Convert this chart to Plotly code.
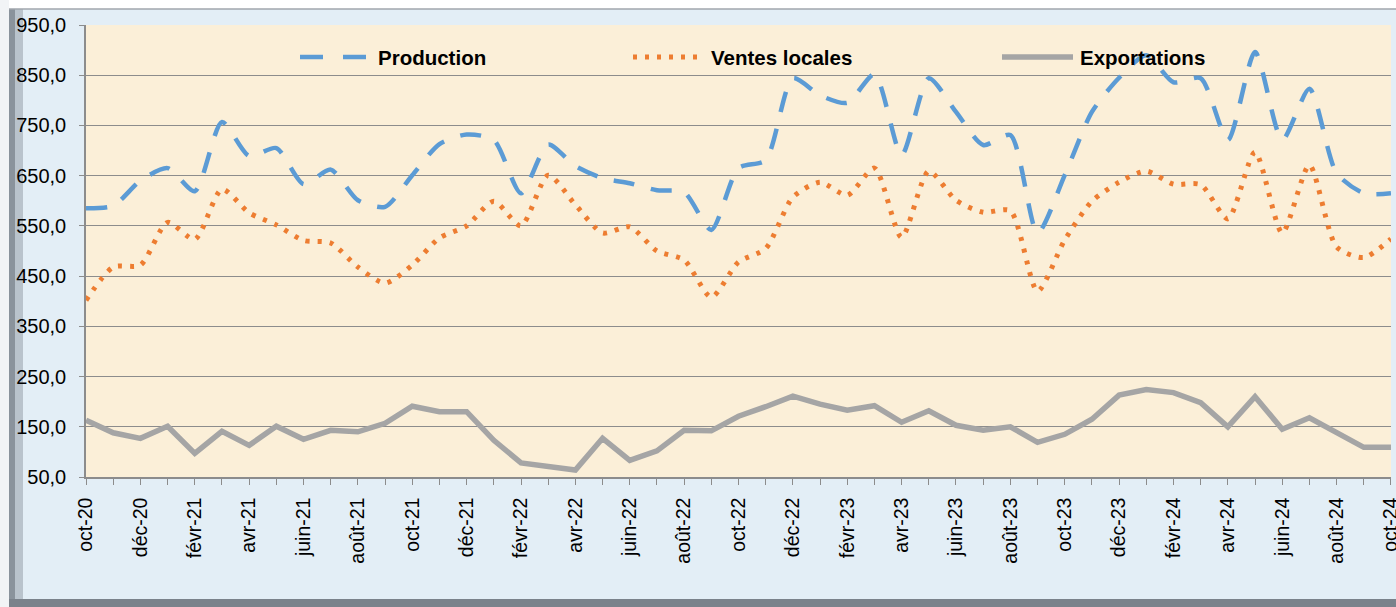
import plotly.graph_objects as go

months = ["oct-20", "nov-20", "déc-20", "janv-21", "févr-21", "mars-21", "avr-21", "mai-21",
          "juin-21", "juil-21", "août-21", "sept-21", "oct-21", "nov-21", "déc-21", "janv-22",
          "févr-22", "mars-22", "avr-22", "mai-22", "juin-22", "juil-22", "août-22", "sept-22",
          "oct-22", "nov-22", "déc-22", "janv-23", "févr-23", "mars-23", "avr-23", "mai-23",
          "juin-23", "juil-23", "août-23", "sept-23", "oct-23", "nov-23", "déc-23", "janv-24",
          "févr-24", "mars-24", "avr-24", "mai-24", "juin-24", "juil-24", "août-24", "sept-24",
          "oct-24"]

production = [585, 590, 640, 665, 619, 757, 689, 705, 633, 662, 601, 588, 651, 713, 732, 721,
              615, 712, 669, 645, 635, 621, 617, 542, 665, 681, 844, 810, 795, 852, 691, 844,
              777, 711, 731, 536, 651, 777, 845, 890, 836, 844, 721, 896, 721, 823, 655, 615,
              615]

ventes_locales = [402, 468, 472, 557, 523, 623, 576, 552, 521, 516, 468, 436, 472, 526, 550, 599,
                  550, 651, 592, 536, 548, 500, 482, 408, 478, 505, 607, 637, 611, 665, 527, 659,
                  601, 577, 580, 420, 522, 599, 637, 659, 633, 632, 564, 697, 536, 671, 508, 487,
                  524]

exportations = [163, 138, 127, 151, 97, 141, 113, 151, 125, 143, 140, 157, 191, 180, 180, 123,
                78, 70, 64, 127, 83, 102, 143, 142, 171, 190, 211, 195, 183, 192, 159, 182,
                153, 143, 150, 119, 135, 165, 213, 224, 218, 198, 150, 210, 145, 168, 140, 109,
                109]

series_names = ["Production", "Ventes locales", "Exportations"]
colors = ["#5B9BD5", "#ED7D31", "#A5A5A5"]

x_idx = list(range(len(months)))
tick_text = [m if i % 2 == 0 else "" for i, m in enumerate(months)]

FONT = "Arial, 'Liberation Sans', sans-serif"

fig = go.Figure()
fig.add_trace(go.Scatter(x=x_idx, y=production, mode="lines", name=series_names[0],
                         line=dict(color=colors[0], width=4.5, dash="21px,17px", shape="spline", smoothing=0.7)))
fig.add_trace(go.Scatter(x=x_idx, y=ventes_locales, mode="lines", name=series_names[1],
                         line=dict(color=colors[1], width=5, dash="4px,8px", shape="spline", smoothing=0.7)))
fig.add_trace(go.Scatter(x=x_idx, y=exportations, mode="lines", name=series_names[2],
                         line=dict(color=colors[2], width=5.5)))

# plot area pixel geometry (for frame / legend placement)
L, R, T, B = 86, 1391, 25, 477
W, H = R - L, B - T


def px(xp):
    return (xp - L) / W


def py(yp):
    return (B - yp) / H


shapes = []
shapes.append(dict(type="rect", xref="paper", yref="paper", x0=px(0), x1=px(1396), y0=py(0), y1=py(9),
                   fillcolor="white", line=dict(width=0), layer="below"))
shapes.append(dict(type="rect", xref="paper", yref="paper", x0=px(0), x1=px(9), y0=py(0), y1=py(607),
                   fillcolor="#F2F4F6", line=dict(width=0), layer="below"))
shapes.append(dict(type="line", xref="paper", yref="paper", x0=px(9), x1=px(1396), y0=py(9), y1=py(9),
                   line=dict(color="#A0A6AC", width=1.5)))
shapes.append(dict(type="rect", xref="paper", yref="paper", x0=px(9), x1=px(15), y0=py(9), y1=py(607),
                   fillcolor="#8A939C", line=dict(width=0), layer="below"))
shapes.append(dict(type="rect", xref="paper", yref="paper", x0=px(15), x1=px(23), y0=py(9), y1=py(607),
                   fillcolor="#B9C3CC", line=dict(width=0), layer="below"))
shapes.append(dict(type="rect", xref="paper", yref="paper", x0=px(9), x1=px(1396), y0=py(599), y1=py(607),
                   fillcolor="#7A828B", line=dict(width=0), layer="below"))

# legend samples
leg_y = py(57)
shapes.append(dict(type="line", xref="paper", yref="paper", x0=px(300), x1=px(366), y0=leg_y, y1=leg_y,
                   line=dict(color=colors[0], width=4.5, dash="23px,20px")))
shapes.append(dict(type="line", xref="paper", yref="paper", x0=px(633), x1=px(700), y0=leg_y, y1=leg_y,
                   line=dict(color=colors[1], width=5, dash="4px,8px")))
shapes.append(dict(type="line", xref="paper", yref="paper", x0=px(1002), x1=px(1073), y0=leg_y, y1=leg_y,
                   line=dict(color=colors[2], width=5.5)))

annotations = []
for name, xl in zip(series_names, [376, 709, 1078]):
    annotations.append(dict(xref="paper", yref="paper", x=px(xl), y=leg_y, xanchor="left", yanchor="middle",
                            text=f"<b>{name}</b>", showarrow=False,
                            font=dict(family=FONT, size=20.5, color="black")))

fig.update_layout(
    width=1396, height=607,
    margin=dict(l=L, r=1396 - R, t=T, b=607 - B, autoexpand=False),
    paper_bgcolor="#E3EEF6",
    plot_bgcolor="#FBEFD8",
    separators=", ",
    showlegend=False,
    shapes=shapes,
    annotations=annotations,
    font=dict(family=FONT, color="black"),
)

fig.update_xaxes(
    range=[-0.001, 48.001], tickmode="array", tickvals=x_idx, ticktext=tick_text,
    tickangle=-90, ticks="outside", ticklen=6, tickcolor="#8C8C8C", automargin=False,
    ticklabeloverflow="allow", ticklabelstandoff=5,
    showline=True, linecolor="#8C8C8C", linewidth=1.5, showgrid=False, zeroline=False,
    tickfont=dict(family=FONT, size=19.5, color="black"),
)
fig.update_yaxes(
    range=[50, 950], tick0=50, dtick=100, tickformat=".1f", automargin=False,
    ticks="outside", ticklen=5, tickcolor="#8C8C8C", ticklabelstandoff=9,
    showline=True, linecolor="#8C8C8C", linewidth=1.5,
    showgrid=True, gridcolor="#8C8C8C", gridwidth=1, zeroline=False,
    tickfont=dict(family=FONT, size=20, color="black"),
)

fig.write_html("out.html", config={"displayModeBar": False},
               post_script="document.body.style.margin='0';document.body.style.overflow='hidden';")
